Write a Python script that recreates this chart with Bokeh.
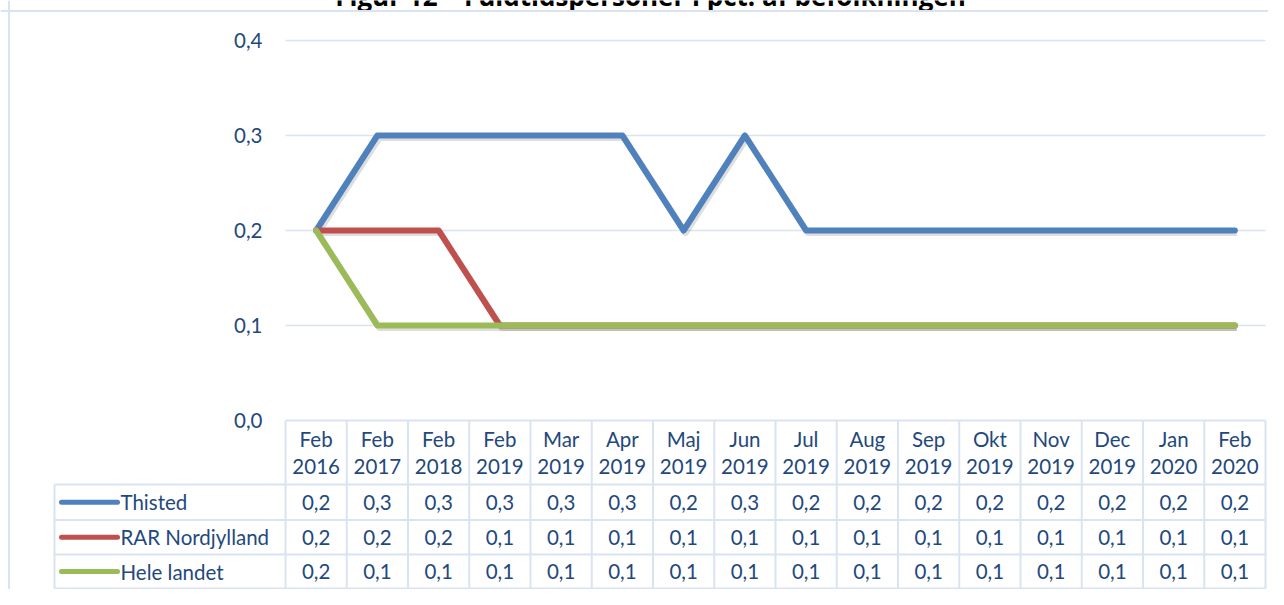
from bokeh.plotting import figure
from bokeh.models import Range1d, Span
from bokeh.core.properties import value
from bokeh.embed import file_html
from bokeh.resources import INLINE

# ---------------- data ----------------
title_text = "Figur 12 – Fuldtidspersoner i pct. af befolkningen"
months = ["Feb", "Feb", "Feb", "Feb", "Mar", "Apr", "Maj", "Jun", "Jul", "Aug",
          "Sep", "Okt", "Nov", "Dec", "Jan", "Feb"]
years = ["2016", "2017", "2018", "2019", "2019", "2019", "2019", "2019", "2019",
         "2019", "2019", "2019", "2019", "2019", "2020", "2020"]
series_names = ["Thisted", "RAR Nordjylland", "Hele landet"]
thisted = [0.2, 0.3, 0.3, 0.3, 0.3, 0.3, 0.2, 0.3, 0.2, 0.2, 0.2, 0.2, 0.2, 0.2, 0.2, 0.2]
rar_nordjylland = [0.2, 0.2, 0.2, 0.1, 0.1, 0.1, 0.1, 0.1, 0.1, 0.1, 0.1, 0.1, 0.1, 0.1, 0.1, 0.1]
hele_landet = [0.2, 0.1, 0.1, 0.1, 0.1, 0.1, 0.1, 0.1, 0.1, 0.1, 0.1, 0.1, 0.1, 0.1, 0.1, 0.1]
y_ticks = [0.0, 0.1, 0.2, 0.3, 0.4]
y_tick_labels = ["0,0", "0,1", "0,2", "0,3", "0,4"]

series_values = [thisted, rar_nordjylland, hele_landet]
series_colors = ["#4F81BD", "#C0504D", "#9BBB59"]

# ---------------- layout (canvas pixels) ----------------
W, H = 1268, 589
COL_LEFT = 285.0      # left edge of first data column
COL_W = 61.25         # column width
LEG_LEFT = 54.0       # left edge of legend column of the table
Y0_PX = 420.0         # pixel row of value 0
PX_PER_UNIT = 950.0   # pixels per 1.0 of value
ROW_BOUNDS = [484.0, 519.5, 554.0, 588.0]

TEXT_COLOR = "#1F497D"
GRID_COLOR = "#D9E3F1"
FONT = "Lato"
FS = "20.5px"

n = len(months)


def xd(px):
    return (px - COL_LEFT) / COL_W - 0.5


def yd(py):
    return (Y0_PX - py) / PX_PER_UNIT


p = figure(width=W, height=H,
           x_range=Range1d(xd(0), xd(W)), y_range=Range1d(yd(H), yd(0)),
           output_backend="svg", toolbar_location=None, min_border=0,
           x_axis_location=None, y_axis_location=None)
p.title.visible = False
p.grid.visible = False
p.outline_line_color = None
p.background_fill_color = "white"
p.border_fill_color = "white"

# outer chart-area border (left and top)
p.add_layout(Span(location=xd(8.5), dimension="height", line_color=GRID_COLOR, line_width=2))
p.add_layout(Span(location=yd(10.5), dimension="width", line_color=GRID_COLOR, line_width=2))

# title (cut at the top as in the source)
p.text(x=[xd(650)], y=[yd(-5)], text=[title_text], text_font=value("Open Sans"),
       text_font_style="bold", text_font_size="26px", text_color="black",
       text_align="center", text_baseline="alphabetic")

# horizontal gridlines (values above 0)
grid_vals = [v for v in y_ticks if v > 0]
p.segment(x0=[-0.5] * len(grid_vals), x1=[n - 0.5] * len(grid_vals),
          y0=grid_vals, y1=grid_vals, line_color=GRID_COLOR, line_width=1.5)

# y tick labels
p.text(x=[xd(262)] * len(y_ticks), y=y_ticks, text=y_tick_labels,
       text_font=value(FONT), text_font_size=FS, text_color=TEXT_COLOR,
       text_align="right", text_baseline="middle")

# ---------------- data table ----------------
tb_bottom = yd(ROW_BOUNDS[-1])
p.segment(x0=[-0.5], x1=[n - 0.5], y0=[0.0], y1=[0.0], line_color=GRID_COLOR, line_width=2)
row_ys = [yd(b) for b in ROW_BOUNDS]
p.segment(x0=[xd(LEG_LEFT)] * len(row_ys), x1=[n - 0.5] * len(row_ys),
          y0=row_ys, y1=row_ys, line_color=GRID_COLOR, line_width=2)
vx = [k - 0.5 for k in range(n + 1)]
p.segment(x0=vx, x1=vx, y0=[0.0] * len(vx), y1=[tb_bottom] * len(vx),
          line_color=GRID_COLOR, line_width=2)
p.segment(x0=[xd(LEG_LEFT)], x1=[xd(LEG_LEFT)], y0=[yd(ROW_BOUNDS[0])], y1=[tb_bottom],
          line_color=GRID_COLOR, line_width=2)

idx = list(range(n))
p.text(x=idx, y=[yd(438)] * n, text=months, text_font=value(FONT), text_font_size=FS,
       text_color=TEXT_COLOR, text_align="center", text_baseline="middle")
p.text(x=idx, y=[yd(466)] * n, text=years, text_font=value(FONT), text_font_size=FS,
       text_color=TEXT_COLOR, text_align="center", text_baseline="middle")

for r, (name, vals, col) in enumerate(zip(series_names, series_values, series_colors)):
    yc = yd((ROW_BOUNDS[r] + ROW_BOUNDS[r + 1]) / 2)
    labels = [f"{v:.1f}".replace(".", ",") for v in vals]
    p.text(x=idx, y=[yc] * n, text=labels, text_font=value(FONT), text_font_size=FS,
           text_color=TEXT_COLOR, text_align="center", text_baseline="middle")
    p.segment(x0=[xd(LEG_LEFT + 7)], x1=[xd(LEG_LEFT + 63)], y0=[yc], y1=[yc],
              line_color=col, line_width=5, line_cap="round")
    p.text(x=[xd(LEG_LEFT + 66)], y=[yc], text=[name], text_font=value(FONT),
           text_font_size=FS, text_color=TEXT_COLOR, text_align="left",
           text_baseline="middle")

# ---------------- lines ----------------
sdx = 2.0 / COL_W
sdy = 2.5 / PX_PER_UNIT
for vals in series_values:
    p.line(x=[i + sdx for i in idx], y=[v - sdy for v in vals], line_color="black",
           line_alpha=0.13, line_width=6, line_join="round")
for vals, col in zip(series_values, series_colors):
    p.line(x=idx, y=vals, line_color=col, line_width=6, line_join="round", line_cap="round")

open("out.html", "w").write(file_html(p, INLINE))
